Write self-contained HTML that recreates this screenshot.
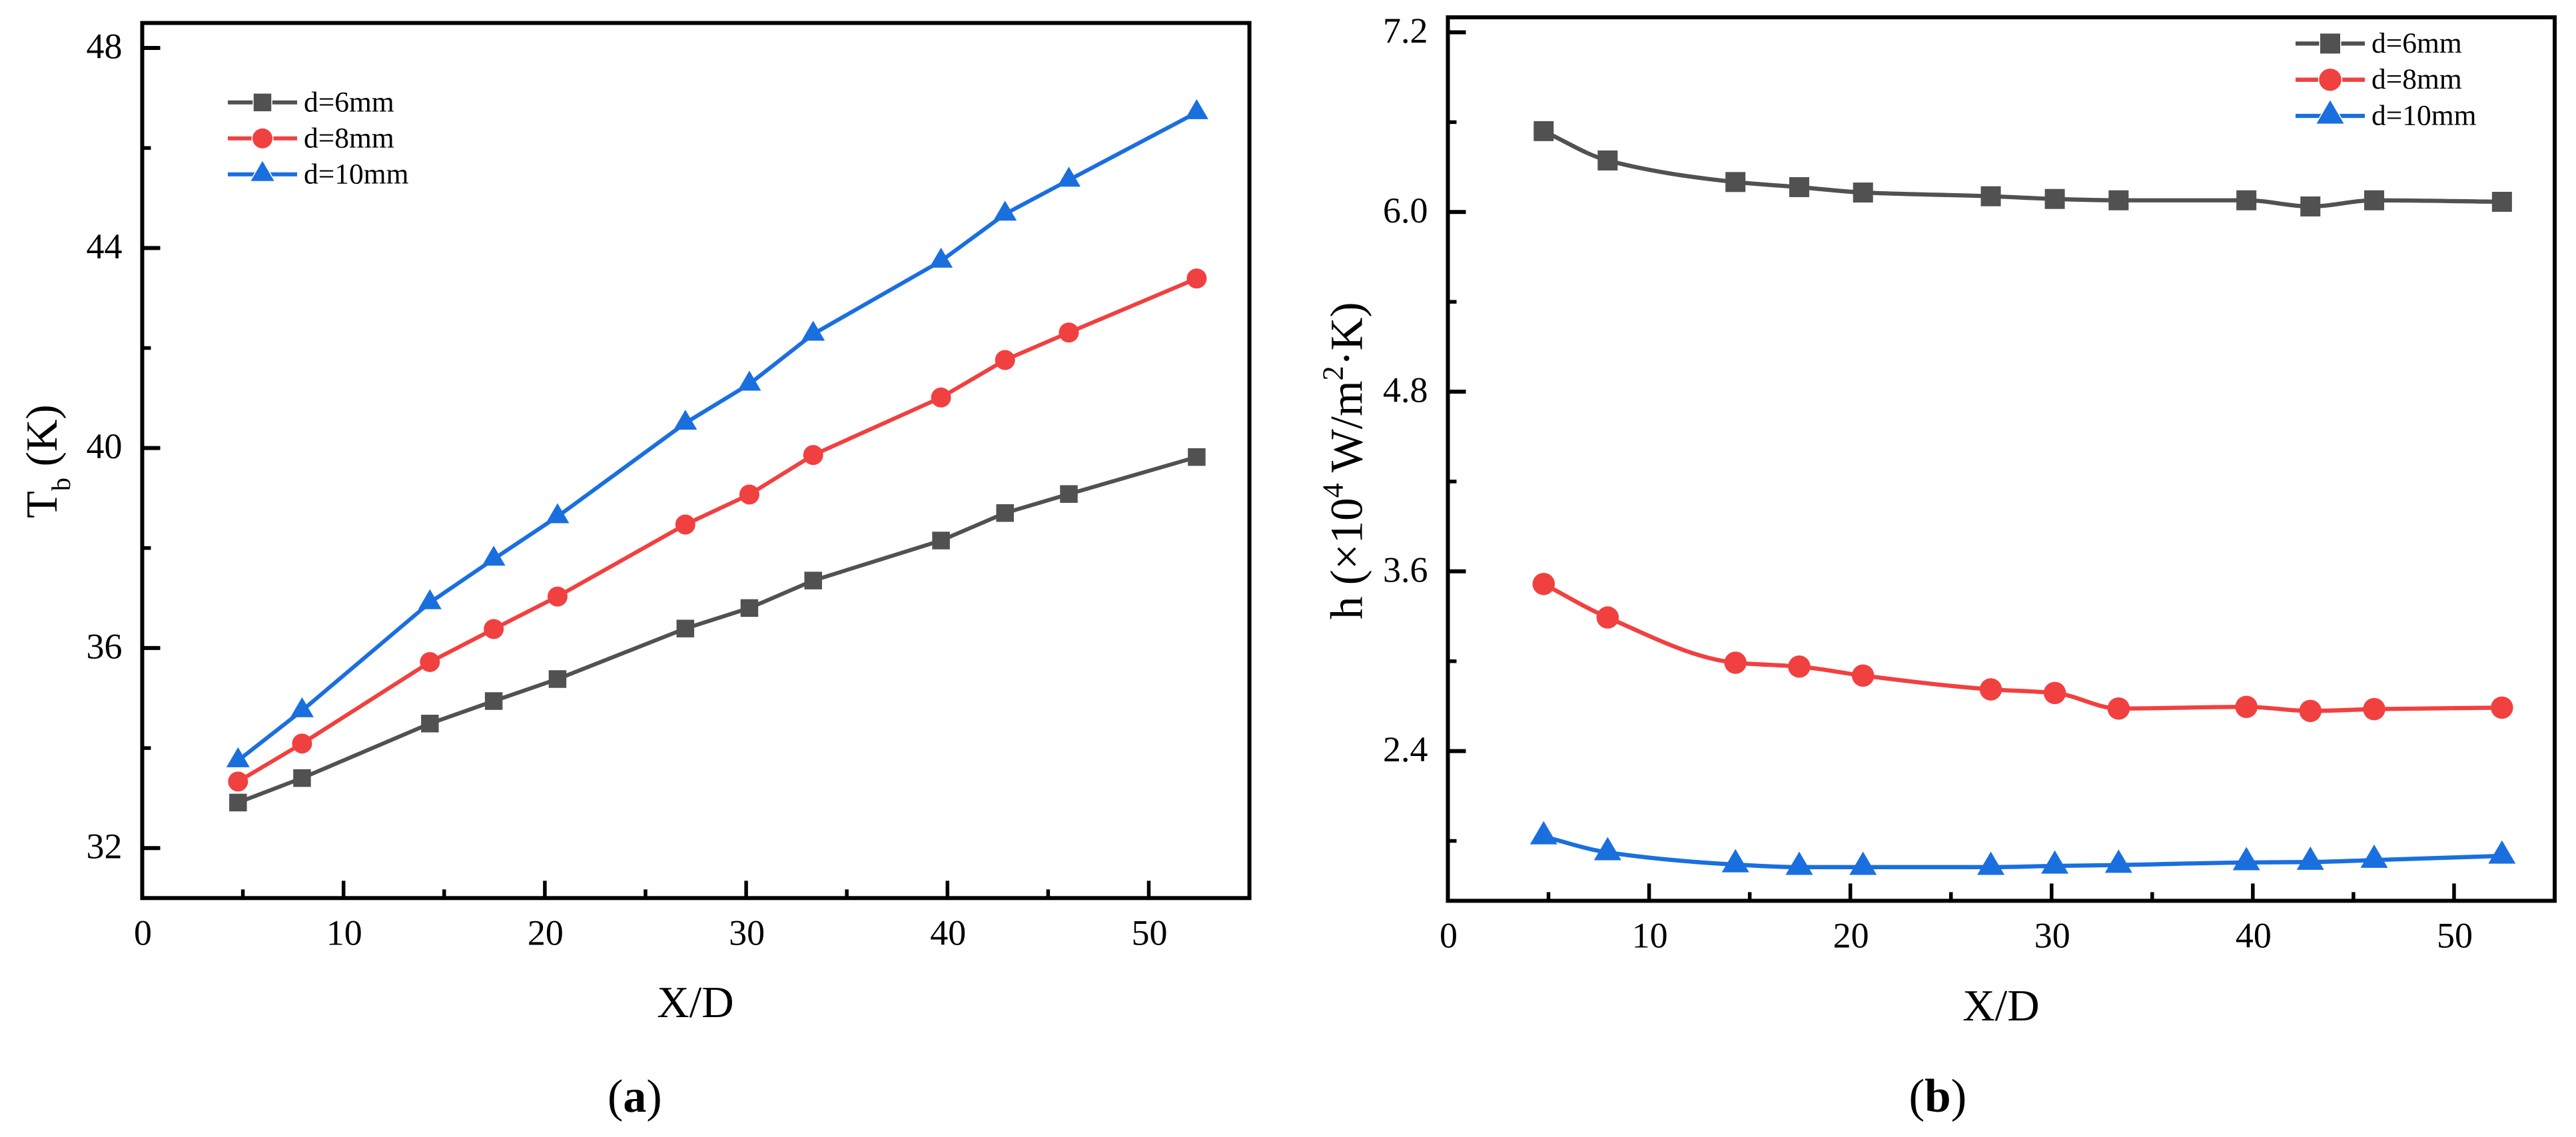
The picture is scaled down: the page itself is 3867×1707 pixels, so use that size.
<!DOCTYPE html>
<html lang="en">
<head>
<meta charset="utf-8">
<title>Bulk temperature and heat transfer coefficient versus X/D</title>
<style>
html,body{margin:0;padding:0;background:#fff;}
svg{display:block;}
text{font-family:"Liberation Serif","Times New Roman",serif;fill:#000;}
</style>
</head>
<body>
<svg id="figure" xmlns="http://www.w3.org/2000/svg" width="3867" height="1707" viewBox="0 0 3867 1707">
  <rect x="0" y="0" width="3867" height="1707" fill="#fff"/>

  <g id="panel-a">
    <text transform="translate(85,778) rotate(-90)" font-size="67">T<tspan font-size="40" dy="20">b</tspan><tspan dy="-20"> (K)</tspan></text>
    <text x="1044" y="1527" font-size="67" text-anchor="middle">X/D</text>
    <text x="912" y="1669" font-size="70">(<tspan font-weight="bold">a</tspan>)</text>
  </g>

  <g id="panel-b">
    <text transform="translate(2044.4,930) rotate(-90)" font-size="69">h (×10<tspan font-size="44" dy="-29">4</tspan><tspan dy="29"> W/m</tspan><tspan font-size="44" dy="-29">2</tspan><tspan dy="29">·K)</tspan></text>
    <text x="3004" y="1532" font-size="67" text-anchor="middle">X/D</text>
    <text x="2865.5" y="1669" font-size="71">(<tspan font-weight="bold">b</tspan>)</text>
  </g>
</svg>
<script>
// Shared X/D positions
const xPositions = [4.76, 7.94, 14.29, 17.46, 20.63, 26.98, 30.16, 33.33, 39.68, 42.86, 46.03, 52.38];

// Panel (a): T_b (K)
const tempD6  = [32.91, 33.40, 34.49, 34.94, 35.38, 36.39, 36.80, 37.35, 38.15, 38.70, 39.08, 39.82];
const tempD8  = [33.33, 34.09, 35.72, 36.38, 37.03, 38.47, 39.07, 39.86, 41.01, 41.76, 42.31, 43.39];
const tempD10 = [33.75, 34.75, 36.91, 37.78, 38.63, 40.50, 41.28, 42.28, 43.74, 44.68, 45.36, 46.71];

// Panel (b): h (x10^4 W/m2.K)
const coefD6  = [6.54, 6.344, 6.20, 6.166, 6.13, 6.105, 6.087, 6.078, 6.078, 6.037, 6.078, 6.068];
const coefD8  = [3.516, 3.292, 2.99, 2.964, 2.904, 2.812, 2.788, 2.684, 2.695, 2.668, 2.68, 2.69];
const coefD10 = [1.829, 1.723, 1.642, 1.625, 1.625, 1.625, 1.633, 1.639, 1.656, 1.659, 1.672, 1.70];

// Tick labels
const xMajorTicks = ['0', '10', '20', '30', '40', '50'];
const xMinorTicks = [5, 15, 25, 35, 45];
const tempMajorTicks = ['32', '36', '40', '44', '48'];
const tempMinorTicks = [34, 38, 42, 46];
const coefMajorTicks = ['2.4', '3.6', '4.8', '6.0', '7.2'];
const coefMinorTicks = [1.8, 3.0, 4.2, 5.4, 6.6];

// Series names and colours
const seriesNames = ['d=6mm', 'd=8mm', 'd=10mm'];
const seriesColors = ['#515151', '#F14040', '#1A6FDF'];
const seriesShapes = ['square', 'circle', 'triangle'];

const NS = 'http://www.w3.org/2000/svg';

function scale(d0, d1, r0, r1) {
  return function (v) { return r0 + (v - d0) * (r1 - r0) / (d1 - d0); };
}

function make(parent, tag, attrs, text) {
  const el = document.createElementNS(NS, tag);
  for (const k in attrs) el.setAttribute(k, attrs[k]);
  if (text !== undefined) el.textContent = text;
  parent.appendChild(el);
  return el;
}

// Monotone cubic interpolation: passes through every point without overshoot
function smoothPath(pts) {
  const n = pts.length;
  const slopes = [];
  for (let i = 0; i < n - 1; i++) {
    slopes.push((pts[i + 1][1] - pts[i][1]) / (pts[i + 1][0] - pts[i][0]));
  }
  const tangents = [slopes[0]];
  for (let i = 1; i < n - 1; i++) {
    const a = slopes[i - 1], b = slopes[i];
    if (a * b <= 0) {
      tangents.push(0);
    } else {
      const h0 = pts[i][0] - pts[i - 1][0], h1 = pts[i + 1][0] - pts[i][0];
      const w1 = 2 * h1 + h0, w2 = h1 + 2 * h0;
      tangents.push((w1 + w2) / (w1 / a + w2 / b));
    }
  }
  tangents.push(slopes[n - 2]);
  let d = 'M' + pts[0][0] + ',' + pts[0][1];
  for (let i = 0; i < n - 1; i++) {
    const h = (pts[i + 1][0] - pts[i][0]) / 3;
    d += 'C' + (pts[i][0] + h) + ',' + (pts[i][1] + tangents[i] * h) + ' ' +
         (pts[i + 1][0] - h) + ',' + (pts[i + 1][1] - tangents[i + 1] * h) + ' ' +
         pts[i + 1][0] + ',' + pts[i + 1][1];
  }
  return d;
}

function linePath(pts) {
  return pts.map(function (p, i) { return (i ? 'L' : 'M') + p[0] + ',' + p[1]; }).join('');
}

function drawMarker(parent, shape, cx, cy, color, size, halo) {
  let el;
  if (shape === 'square') {
    el = make(parent, 'rect', { x: cx - size.sq / 2, y: cy - size.sq / 2, width: size.sq, height: size.sq, fill: color });
  } else if (shape === 'circle') {
    el = make(parent, 'circle', { cx: cx, cy: cy, r: size.ci / 2, fill: color });
  } else {
    const h = size.trH, w = size.trW;
    el = make(parent, 'polygon', {
      points: cx + ',' + (cy - h * 2 / 3) + ' ' + (cx + w / 2) + ',' + (cy + h / 3) + ' ' + (cx - w / 2) + ',' + (cy + h / 3),
      fill: color
    });
  }
  if (halo) {
    el.setAttribute('stroke', '#fff');
    el.setAttribute('stroke-width', '3');
    el.setAttribute('paint-order', 'stroke');
  }
  return el;
}

function drawPanel(cfg) {
  const root = document.getElementById(cfg.id);
  const xS = scale(0, 55, cfg.left, cfg.right);
  const yS = scale(cfg.yMin, cfg.yMax, cfg.bottom, cfg.top);

  // series
  cfg.series.forEach(function (vals, s) {
    const g = make(root, 'g', {});
    
    
    const pts = vals.map(function (v, i) { return [xS(xPositions[i]), yS(v)]; });
    const line = make(g, 'path', {
      d: cfg.smooth ? smoothPath(pts) : linePath(pts),
      fill: 'none', stroke: seriesColors[s], 'stroke-width': cfg.lineWidth, 'stroke-linejoin': 'round'
    });
    
    
    pts.forEach(function (p) {
      const m = drawMarker(g, seriesShapes[s], p[0], p[1], seriesColors[s], cfg.marker, false);
      
      
    });
  });

  // spines
  const frame = make(root, 'rect', {
    x: cfg.left, y: cfg.top, width: cfg.right - cfg.left, height: cfg.bottom - cfg.top,
    fill: 'none', stroke: '#000', 'stroke-width': 6
  });
  
  

  // x ticks
  xMajorTicks.forEach(function (label) {
    const x = xS(parseFloat(label));
    if (parseFloat(label) > 0) {
      const t = make(root, 'line', { x1: x, x2: x, y1: cfg.bottom, y2: cfg.bottom - 26, stroke: '#000', 'stroke-width': 5.5 });
      
      
    }
    const l = make(root, 'text', { x: x + 1, y: cfg.bottom + 70, 'font-size': 54, 'text-anchor': 'middle' }, label);
    
    
  });
  xMinorTicks.forEach(function (v) {
    const x = xS(v);
    const t = make(root, 'line', { x1: x, x2: x, y1: cfg.bottom, y2: cfg.bottom - 13, stroke: '#000', 'stroke-width': 5.5 });
    
    
  });

  // y ticks
  cfg.yMajor.forEach(function (label) {
    const y = yS(parseFloat(label));
    const t = make(root, 'line', { x1: cfg.left, x2: cfg.left + 27, y1: y, y2: y, stroke: '#000', 'stroke-width': 6 });
    
    
    const l = make(root, 'text', { x: cfg.left - 30, y: y + 15.5, 'font-size': 54, 'text-anchor': 'end' }, label);
    
    
  });
  cfg.yMinor.forEach(function (v) {
    const y = yS(v);
    const t = make(root, 'line', { x1: cfg.left, x2: cfg.left + 13, y1: y, y2: y, stroke: '#000', 'stroke-width': 5.5 });
    
    
  });

  // legend
  const lg = make(root, 'g', {});
  
  
  seriesNames.forEach(function (name, s) {
    const e = make(lg, 'g', {});
    
    
    const ly = cfg.legendY + s * cfg.legendStep;
    make(e, 'line', { x1: cfg.legendX - 52, x2: cfg.legendX + 52, y1: ly, y2: ly, stroke: seriesColors[s], 'stroke-width': cfg.lineWidth });
    drawMarker(e, seriesShapes[s], cfg.legendX, ly, seriesColors[s], cfg.marker, true);
    make(e, 'text', { x: cfg.legendTextX, y: ly + 13.5, 'font-size': 43.5 }, name);
  });
}

drawPanel({
  id: 'panel-a', prefix: 'panel-a', smooth: false, lineWidth: 6,
  left: 213.5, right: 1875.6, top: 34.5, bottom: 1348.3, yMin: 31, yMax: 48.5,
  series: [tempD6, tempD8, tempD10], yMajor: tempMajorTicks, yMinor: tempMinorTicks,
  marker: { sq: 26.5, ci: 30, trW: 35, trH: 30 },
  legendX: 394, legendY: 153.8, legendStep: 54, legendTextX: 456
});

drawPanel({
  id: 'panel-b', prefix: 'panel-b', smooth: true, lineWidth: 6.3,
  left: 2173.5, right: 3835, top: 26, bottom: 1352.4, yMin: 1.4, yMax: 7.3,
  series: [coefD6, coefD8, coefD10], yMajor: coefMajorTicks, yMinor: coefMinorTicks,
  marker: { sq: 30, ci: 33.5, trW: 41, trH: 35 },
  legendX: 3498, legendY: 65.4, legendStep: 54.3, legendTextX: 3560
});
</script>
</body>
</html>
